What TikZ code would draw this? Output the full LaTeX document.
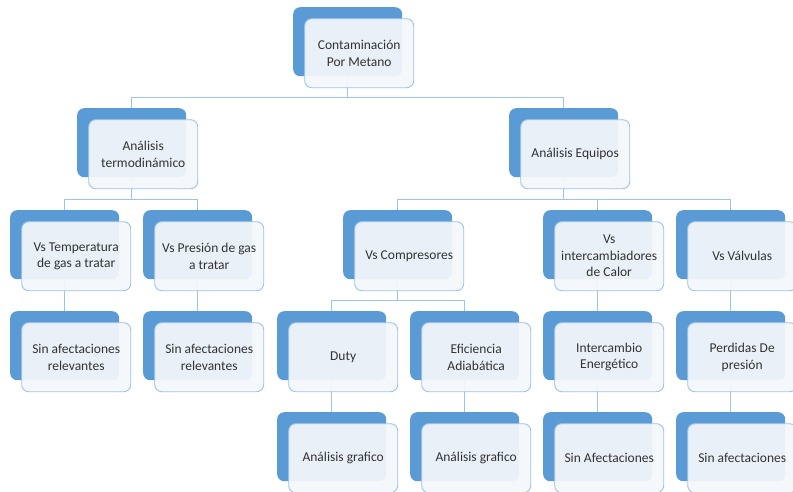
\documentclass[tikz,border=0pt]{standalone}
\usepackage{fontspec}
\setmainfont{Carlito}
\definecolor{backblue}{HTML}{5B9BD5}
\definecolor{frontfill}{HTML}{F4F7FB}
\definecolor{edgeblue}{HTML}{9DC3E6}
\definecolor{txt}{HTML}{333333}
\tikzset{
  backbox/.style={anchor=north west, rectangle, rounded corners=7pt, fill=backblue,
    minimum width=109pt, minimum height=69pt, inner sep=0pt},
  frontbox/.style={rectangle, rounded corners=7pt, fill=frontfill, fill opacity=0.93,
    draw=edgeblue, line width=0.9pt, minimum width=109pt, minimum height=69pt,
    inner sep=0pt, text opacity=1, text=txt, align=center,
    font=\fontsize{13.5}{16.5}\selectfont},
  link/.style={draw=edgeblue, line width=0.9pt}
}
% \tile{name}{label}: the lighter tile laid over the blue back tile (name)B
\newcommand{\tile}[2]{%
  \node[backbox] at (#1B.north west) {};
  \node[frontbox] (#1) at ([xshift=11.5pt,yshift=-11.5pt]#1B.center) {#2};
}
\begin{document}
\begin{tikzpicture}[x=1pt,y=-1pt]
\useasboundingbox (0,0) rectangle (793,491);
% top-left corners of the back tiles
\path (293,7) coordinate (p-top)
      (77,108) coordinate (p-termo)  (509,108) coordinate (p-equip)
      (10,210) coordinate (p-temp)   (143,210) coordinate (p-pres)
      (343,210) coordinate (p-comp)  (543,210) coordinate (p-inter) (676,210) coordinate (p-valv)
      (10,311) coordinate (p-sin1)   (143,311) coordinate (p-sin2)
      (277,311) coordinate (p-duty)  (410,311) coordinate (p-efic)
      (543,311) coordinate (p-energ) (676,311) coordinate (p-perd)
      (277,412) coordinate (p-graf1) (410,412) coordinate (p-graf2)
      (543,412) coordinate (p-sinA)  (676,412) coordinate (p-sinB);
% outline-free frames giving each back tile its anchors
\foreach \n in {top,termo,equip,temp,pres,comp,inter,valv,sin1,sin2,duty,efic,energ,perd,graf1,graf2,sinA,sinB}
  \node[backbox, fill=none] (\n B) at (p-\n) {};
% tree connectors, drawn before the tiles
\foreach \p/\c in {top/termo, top/equip, termo/temp, termo/pres,
                   equip/comp, equip/inter, equip/valv,
                   temp/sin1, pres/sin2, comp/duty, comp/efic,
                   inter/energ, valv/perd, duty/graf1, efic/graf2,
                   energ/sinA, perd/sinB}
  \draw[link] (\p B.south) -- ([yshift=11pt]\p B.south |- \c B.north) -| (\c B.north);
% tiles
\tile{top}{Contaminación\\Por Metano}
\tile{termo}{Análisis\\termodinámico}
\tile{equip}{Análisis Equipos}
\tile{temp}{Vs Temperatura\\de gas a tratar}
\tile{pres}{Vs Presión de gas\\a tratar}
\tile{comp}{Vs Compresores}
\tile{inter}{Vs\\intercambiadores\\de Calor}
\tile{valv}{Vs Válvulas}
\tile{sin1}{Sin afectaciones\\relevantes}
\tile{sin2}{Sin afectaciones\\relevantes}
\tile{duty}{Duty}
\tile{efic}{Eficiencia\\Adiabática}
\tile{energ}{Intercambio\\Energético}
\tile{perd}{Perdidas De\\presión}
\tile{graf1}{Análisis grafico}
\tile{graf2}{Análisis grafico}
\tile{sinA}{Sin Afectaciones}
\tile{sinB}{Sin afectaciones}
\end{tikzpicture}
\end{document}
